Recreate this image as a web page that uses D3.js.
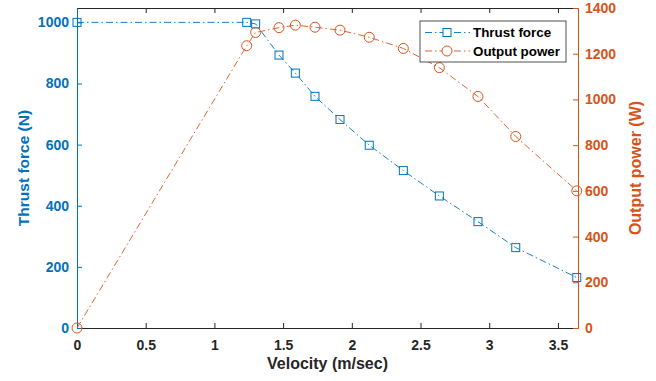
<!DOCTYPE html>
<html>
<head>
<meta charset="utf-8">
<script src="https://cdn.jsdelivr.net/npm/d3@7"></script>
<style>
  html, body { margin: 0; padding: 0; background: #fff; }
  svg { display: block; font-family: Arial, "Liberation Sans", Helvetica, sans-serif; }
</style>
</head>
<body>
<svg id="chart" width="656" height="381"></svg>
<script>
// Motor characteristic: thrust force and output power against velocity
const velocity = [0, 1.235, 1.30, 1.47, 1.589, 1.732, 1.914, 2.127, 2.375, 2.637, 2.918, 3.193, 3.637];
const thrustForce = [1000, 1000, 995, 893, 834, 758, 682, 598, 515, 432, 348, 263, 165];
const outputPower = [0, 1235, 1293, 1314, 1325, 1316, 1303, 1272, 1223, 1139, 1013, 838, 600];
const xTicks = [0, 0.5, 1, 1.5, 2, 2.5, 3, 3.5];
const leftTicks = [0, 200, 400, 600, 800, 1000];
const rightTicks = [0, 200, 400, 600, 800, 1000, 1200, 1400];
const seriesNames = ["Thrust force", "Output power"];

const blue = "#0072BD", orange = "#D95319", dark = "#262626";
const m = { left: 77, right: 78, top: 8, bottom: 53 };
const W = 656, H = 381;
const pw = W - m.left - m.right, ph = H - m.top - m.bottom;

const svg = d3.select("#chart");
const g = svg.append("g").attr("transform", `translate(${m.left},${m.top})`);

const x = d3.scaleLinear().domain([0, 3.646]).range([0, pw]);
const yL = d3.scaleLinear().domain([0, 1047]).range([ph, 0]);
const yR = d3.scaleLinear().domain([0, 1400]).range([ph, 0]);

function styleAxis(sel, color) {
  sel.selectAll("path.domain").attr("stroke", color).attr("stroke-width", 1);
  sel.selectAll(".tick line").attr("stroke", color).attr("stroke-width", 1);
  sel.selectAll(".tick text").attr("fill", color)
    .attr("font-size", 14).attr("font-weight", "bold");
}

// bottom and top axes (ticks point inward)
const xb = g.append("g").attr("transform", `translate(0,${ph})`)
  .call(d3.axisBottom(x).tickValues(xTicks).tickSizeInner(-5).tickSizeOuter(0).tickPadding(12).tickFormat(d3.format("")));
styleAxis(xb, dark);
const xt = g.append("g")
  .call(d3.axisTop(x).tickValues(xTicks).tickSizeInner(-5).tickSizeOuter(0).tickFormat(""));
styleAxis(xt, dark);

const al = g.append("g")
  .call(d3.axisLeft(yL).tickValues(leftTicks).tickSizeInner(-5).tickSizeOuter(0).tickPadding(8).tickFormat(d3.format("")));
styleAxis(al, blue);
const ar = g.append("g").attr("transform", `translate(${pw},0)`)
  .call(d3.axisRight(yR).tickValues(rightTicks).tickSizeInner(-5).tickSizeOuter(0).tickPadding(7).tickFormat(d3.format("")));
styleAxis(ar, orange);

// axis titles
svg.append("text").attr("x", m.left + pw / 2).attr("y", 369)
  .attr("text-anchor", "middle").attr("font-size", 16).attr("font-weight", "bold")
  .attr("fill", dark).text("Velocity (m/sec)");
svg.append("text").attr("transform", `translate(28.5,${m.top + ph / 2}) rotate(-90)`)
  .attr("text-anchor", "middle").attr("font-size", 15.5).attr("font-weight", "bold")
  .attr("fill", blue).text("Thrust force (N)");
svg.append("text").attr("transform", `translate(641,${m.top + ph / 2}) rotate(-90)`)
  .attr("text-anchor", "middle").attr("font-size", 16).attr("font-weight", "bold")
  .attr("fill", orange).text("Output power (W)");

const dash = "7,3,1.5,3";

// thrust force series
const thrustPts = velocity.map((v, i) => [x(v), yL(thrustForce[i])]);
g.append("path").attr("d", d3.line()(thrustPts))
  .attr("fill", "none").attr("stroke", blue).attr("stroke-width", 0.9)
  .attr("stroke-dasharray", dash);
g.selectAll("rect.tf").data(thrustPts).join("rect").attr("class", "tf")
  .attr("x", d => d[0] - 4).attr("y", d => d[1] - 4)
  .attr("width", 8).attr("height", 8)
  .attr("fill", "none").attr("stroke", blue).attr("stroke-width", 1);

// output power series
const powerPts = velocity.map((v, i) => [x(v), yR(outputPower[i])]);
g.append("path").attr("d", d3.line()(powerPts))
  .attr("fill", "none").attr("stroke", orange).attr("stroke-width", 0.9)
  .attr("stroke-dasharray", dash);
g.selectAll("circle.op").data(powerPts).join("circle").attr("class", "op")
  .attr("cx", d => d[0]).attr("cy", d => d[1]).attr("r", 5)
  .attr("fill", "none").attr("stroke", orange).attr("stroke-width", 1);

// legend
const lg = svg.append("g").attr("transform", "translate(420,21)");
lg.append("rect").attr("width", 146).attr("height", 41)
  .attr("fill", "#fff").attr("stroke", dark).attr("stroke-width", 0.8);
const rows = [
  { name: seriesNames[0], color: blue, y: 11.5, shape: "square" },
  { name: seriesNames[1], color: orange, y: 30, shape: "circle" }
];
rows.forEach(r => {
  lg.append("line").attr("x1", 5).attr("x2", 50).attr("y1", r.y).attr("y2", r.y)
    .attr("stroke", r.color).attr("stroke-width", 0.9).attr("stroke-dasharray", dash);
  if (r.shape === "square") {
    lg.append("rect").attr("x", 27 - 4).attr("y", r.y - 4).attr("width", 8).attr("height", 8)
      .attr("fill", "#fff").attr("stroke", r.color).attr("stroke-width", 1);
  } else {
    lg.append("circle").attr("cx", 27).attr("cy", r.y).attr("r", 5)
      .attr("fill", "#fff").attr("stroke", r.color).attr("stroke-width", 1);
  }
  lg.append("text").attr("x", 53).attr("y", r.y + 4.8)
    .attr("font-size", 13.4).attr("font-weight", "bold").attr("fill", "#000").text(r.name);
});
</script>
</body>
</html>
